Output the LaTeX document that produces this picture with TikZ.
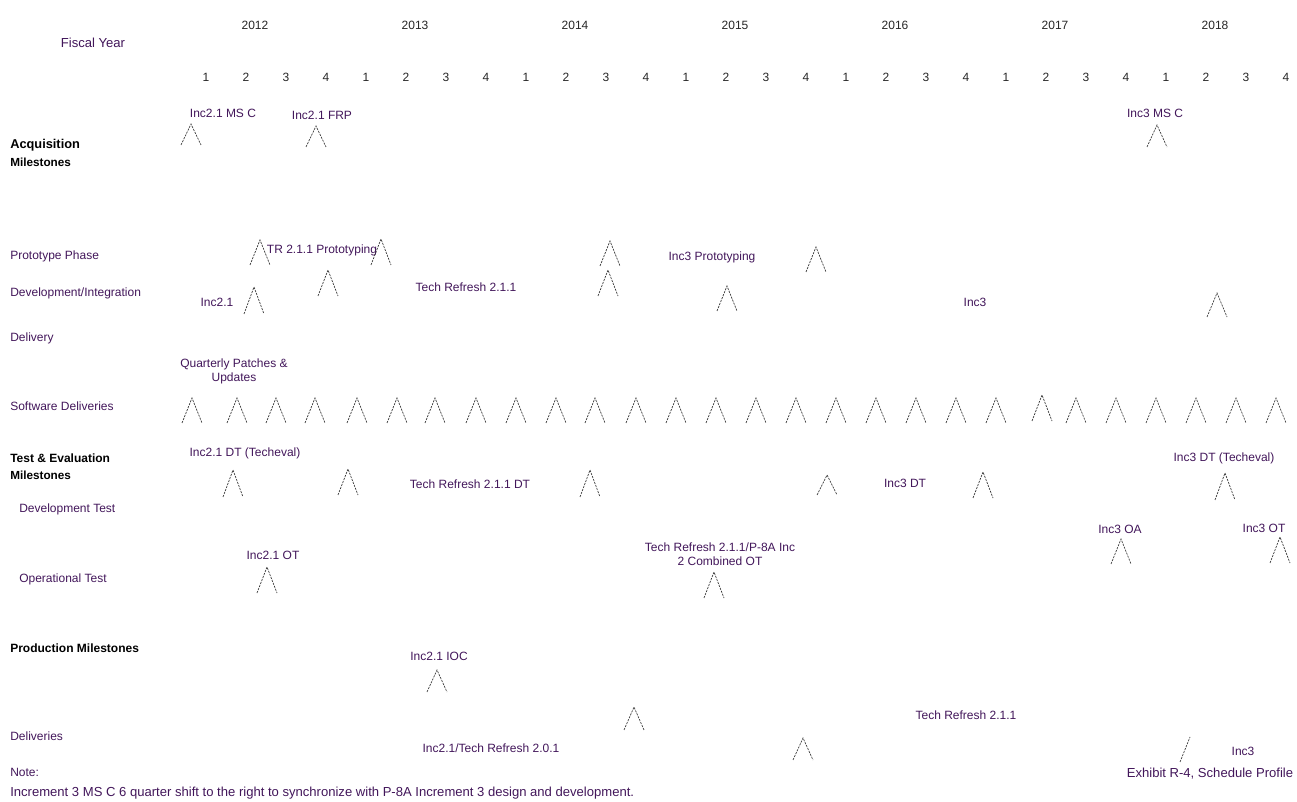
\documentclass[tikz,border=0pt]{standalone}
\usepackage{fontspec}
\setmainfont{Liberation Sans}
\usepackage{tikz}
\usetikzlibrary{positioning}
\definecolor{labelink}{RGB}{66,22,90}
\definecolor{caretink}{RGB}{55,55,55}
\newcommand{\mstone}[3]{\draw[caretline] (#1-10,#3) -- (#1,#2) -- (#1+10,#3);}
\tikzset{
  lbl/.style={inner sep=0pt, font=\fontsize{9}{10.5}\selectfont, text=labelink},
  rowlbl/.style={lbl, anchor=west},
  biglbl/.style={lbl, font=\fontsize{9.8}{11}\selectfont},
  head/.style={inner sep=0pt, anchor=west, font=\fontsize{9.6}{11}\selectfont\bfseries, text=black},
  subhead/.style={head, font=\fontsize{8.8}{10}\selectfont\bfseries},
  qnum/.style={lbl, text=black!85},
  twoline/.style={lbl, align=center},
  caretline/.style={draw=caretink, line width=0.5pt, dash pattern=on 1.6pt off 0.8pt}
}

\begin{document}
\begin{tikzpicture}[x=0.75pt,y=-0.75pt]
  \useasboundingbox (0,0) rectangle (1297,802);

  % time axis
  \node[biglbl] (fiscal) at (93,43) {Fiscal Year};
  \foreach \yr [count=\k from 0] in {2012,2013,2014,2015,2016,2017,2018}
    \node[qnum] (y\yr) at (255+160*\k,25) {\yr};
  \foreach \k in {0,...,27}{
    \pgfmathtruncatemacro{\qq}{mod(\k,4)+1}
    \node[qnum] (q\k) at (206+40*\k,77) {\qq};
  }

  % row labels
  \node[head] (acqhead) at (10,145) {Acquisition};
  \node[subhead] (acqsub) at (10,162) {Milestones};
  \node[rowlbl] (proto) at (10,256) {Prototype Phase};
  \node[rowlbl] (devint) at (10,293) {Development/Integration};
  \node[rowlbl] (delivery) at (10,338) {Delivery};
  \node[rowlbl] (swdel) at (10,406) {Software Deliveries};
  \node[head, font=\fontsize{9}{10.5}\selectfont\bfseries] (tehead) at (10,458) {Test \& Evaluation};
  \node[subhead] (tesub) at (10,475) {Milestones};
  \node[rowlbl] (devtest) at (19,509) {Development Test};
  \node[rowlbl] (optest) at (19,579) {Operational Test};
  \node[head, font=\fontsize{9}{10.5}\selectfont\bfseries] (prodhead) at (10,648) {Production Milestones};
  \node[rowlbl] (deliveries) at (10,736) {Deliveries};
  \node[rowlbl] (notehead) at (10,772) {Note:};
  \node[biglbl, anchor=west] (notetext) at (10,793) {Increment 3 MS C 6 quarter shift to the right to synchronize with P-8A Increment 3 design and development.};

  % acquisition milestones
  \node[lbl] (inc21msc) at (223,113) {Inc2.1 MS C};
  \mstone{191}{124}{145}
  \node[lbl] (inc21frp) at (322,115) {Inc2.1 FRP};
  \mstone{316}{126}{147}
  \node[lbl] (inc3msc) at (1155,113) {Inc3 MS C};
  \mstone{1157}{125}{147}

  % prototype phase
  \mstone{260}{240}{265}
  \node[lbl] (trproto) at (322,250) {TR 2.1.1 Prototyping};
  \mstone{381}{239}{265}
  \mstone{610}{241}{266}
  \node[lbl] (inc3proto) at (712,257) {Inc3 Prototyping};
  \mstone{816}{247}{272}

  % development/integration
  \node[lbl] (devinc21) at (217,302) {Inc2.1};
  \mstone{254}{287}{314}
  \mstone{328}{270}{296}
  \node[lbl] (devtr) at (466,287) {Tech Refresh 2.1.1};
  \mstone{608}{270}{296}
  \mstone{727}{286}{311}
  \node[lbl] (devinc3) at (975,302) {Inc3};
  \mstone{1217}{293}{317}

  % software deliveries
  \node[twoline] (patches) at (234,371) {Quarterly Patches \&\\Updates};
  \foreach \x in {192,237,276,315,357,397,435,476,516,556,595,636,676,716,756,796,836,876,916,956,996,1076,1116,1156,1196,1236,1276}{
    \mstone{\x}{398}{423}
  }
  \mstone{1042}{395}{421}

  % test and evaluation
  \node[lbl] (dt21) at (245,453) {Inc2.1 DT (Techeval)};
  \mstone{233}{470}{497}
  \mstone{348}{469}{495}
  \node[lbl] (trdt) at (470,484) {Tech Refresh 2.1.1 DT};
  \mstone{590}{470}{497}
  \mstone{827}{475}{495}
  \node[lbl] (dt3) at (905,483) {Inc3 DT};
  \mstone{983}{472}{498}
  \node[lbl] (dt3tech) at (1224,458) {Inc3 DT (Techeval)};
  \mstone{1225}{473}{500}
  \node[lbl] (oa3) at (1120,529) {Inc3 OA};
  \mstone{1121}{539}{564}
  \node[lbl] (ot3) at (1264,528) {Inc3 OT};
  \mstone{1280}{537}{563}
  \node[lbl] (ot21) at (273,555) {Inc2.1 OT};
  \mstone{267}{567}{593}
  \node[twoline] (combot) at (720,554) {Tech Refresh 2.1.1/P-8A Inc\\2 Combined OT};
  \mstone{714}{572}{598}

  % production milestones and deliveries
  \node[lbl] (ioc21) at (439,656) {Inc2.1 IOC};
  \mstone{437}{670}{692}
  \mstone{634}{707}{730}
  \node[lbl] (prodtr) at (966,715) {Tech Refresh 2.1.1};
  \node[lbl] (deltr) at (491,748) {Inc2.1/Tech Refresh 2.0.1};
  \mstone{803}{738}{760}
  \coordinate (legtop) at (1190,737);
  \coordinate (legfoot) at (1180,762);
  \draw[caretline] (legfoot) -- (legtop);
  \node[lbl] (delinc3) at (1243,751) {Inc3};
  \node[biglbl] (exhibit) at (1210,774) {Exhibit R-4, Schedule Profile};
\end{tikzpicture}
\end{document}
